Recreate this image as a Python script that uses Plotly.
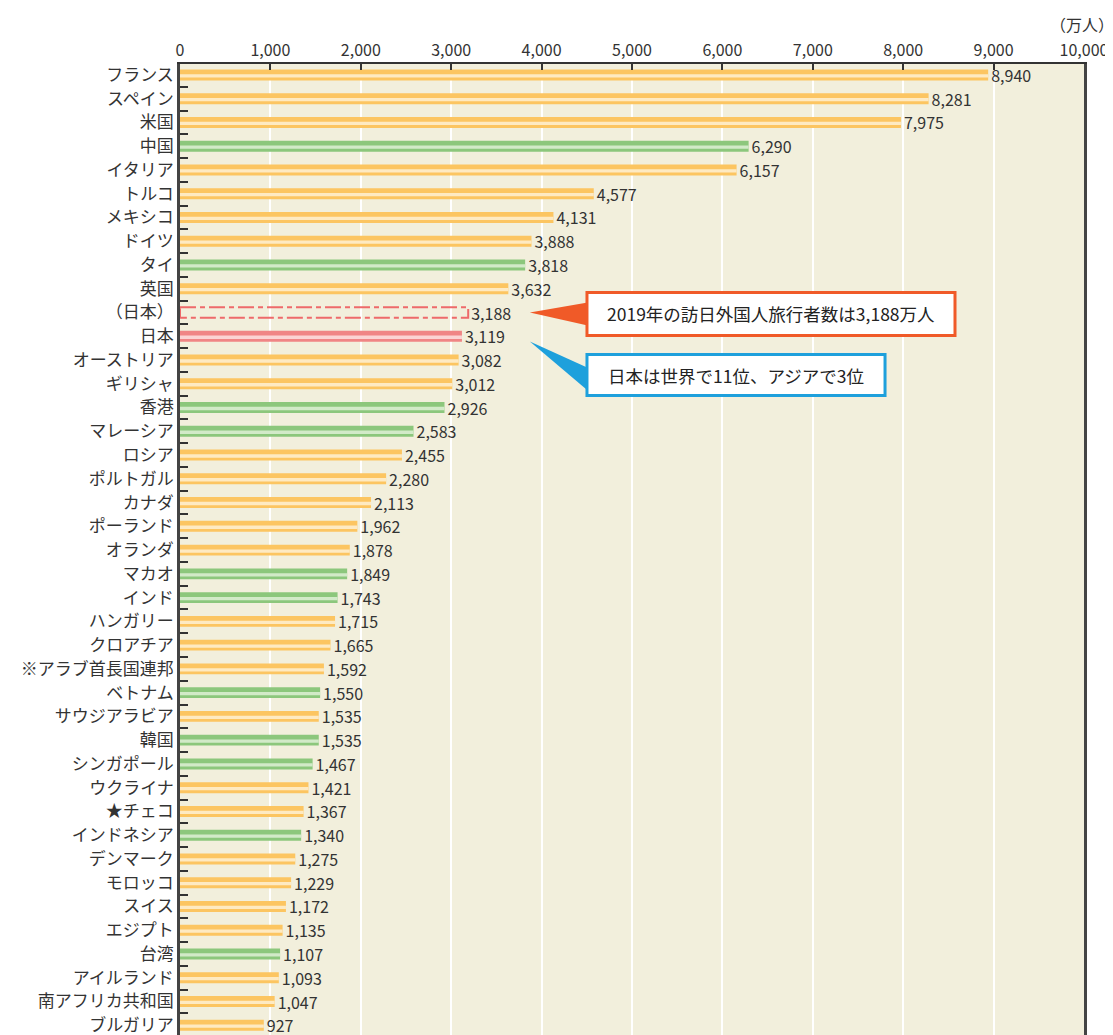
import plotly.graph_objects as go

# 国・地域別 外国人旅行者受入数 (万人)
countries = [
    'フランス', 'スペイン', '米国', '中国', 'イタリア', 'トルコ', 'メキシコ', 'ドイツ',
    'タイ', '英国', '（日本）', '日本', 'オーストリア', 'ギリシャ', '香港', 'マレーシア',
    'ロシア', 'ポルトガル', 'カナダ', 'ポーランド', 'オランダ', 'マカオ', 'インド',
    'ハンガリー', 'クロアチア', '※アラブ首長国連邦', 'ベトナム', 'サウジアラビア', '韓国',
    'シンガポール', 'ウクライナ', '★チェコ', 'インドネシア', 'デンマーク', 'モロッコ',
    'スイス', 'エジプト', '台湾', 'アイルランド', '南アフリカ共和国', 'ブルガリア',
]
visitors = [
    8940, 8281, 7975, 6290, 6157, 4577, 4131, 3888,
    3818, 3632, 3188, 3119, 3082, 3012, 2926, 2583,
    2455, 2280, 2113, 1962, 1878, 1849, 1743,
    1715, 1665, 1592, 1550, 1535, 1535,
    1467, 1421, 1367, 1340, 1275, 1229,
    1172, 1135, 1107, 1093, 1047, 927,
]
# other / asia / japan / japan2019
groups = [
    'other', 'other', 'other', 'asia', 'other', 'other', 'other', 'other',
    'asia', 'other', 'japan2019', 'japan', 'other', 'other', 'asia', 'asia',
    'other', 'other', 'other', 'other', 'other', 'asia', 'asia',
    'other', 'other', 'other', 'asia', 'other', 'asia',
    'asia', 'other', 'other', 'asia', 'other', 'other',
    'other', 'other', 'asia', 'other', 'other', 'other',
]
note_2019 = '2019年の訪日外国人旅行者数は3,188万人'
note_rank = '日本は世界で11位、アジアで3位'
unit = '（万人）'

base_col = {'other': '#fcc561', 'asia': '#8cc77c', 'japan': '#f08585', 'japan2019': 'rgba(0,0,0,0)'}
light_col = {'other': '#feeac2', 'asia': '#d2eac8', 'japan': '#fbd3d3', 'japan2019': 'rgba(0,0,0,0)'}

ypos = list(range(len(countries)))
FONT = 'Noto Sans CJK JP'

fig = go.Figure()
fig.add_trace(go.Bar(
    x=visitors, y=ypos, orientation='h', width=0.46,
    marker=dict(color=[base_col[g] for g in groups], line_width=0),
    text=[f'{v:,}' for v in visitors], textposition='outside',
    constraintext='none', cliponaxis=False,
    textfont=dict(size=16, color='#333333', family=FONT),
    hoverinfo='skip',
))
fig.add_trace(go.Bar(
    x=visitors, y=[p + 0.04 for p in ypos], orientation='h', width=0.14,
    marker=dict(color=[light_col[g] for g in groups], line_width=0),
    hoverinfo='skip',
))

# dashed outline for the 2019 Japan figure
for i, g in enumerate(groups):
    if g == 'japan2019':
        fig.add_shape(type='rect', xref='x', yref='y', x0=0, x1=visitors[i],
                      y0=i - 0.22, y1=i + 0.22, layer='above',
                      line=dict(color='#ee6a6a', width=2, dash='16px,4px,5px,4px'))

# callout boxes
fig.add_shape(type='path', xref='x', yref='y', layer='above',
              path='M 3870,10.0 L 4510,9.58 L 4510,10.55 Z',
              fillcolor='#f05a28', line=dict(width=0))
fig.add_shape(type='rect', xref='x', yref='y', x0=4502, x1=8573, y0=9.16, y1=10.97,
              fillcolor='white', line=dict(color='#f05a28', width=3), layer='above')
fig.add_annotation(x=(4502 + 8573) / 2, y=10.06, xref='x', yref='y',
                   text=note_2019, showarrow=False,
                   font=dict(size=17.5, color='#222222', family=FONT))

fig.add_shape(type='path', xref='x', yref='y', layer='above',
              path='M 3870,11.22 L 4510,12.32 L 4510,13.28 Z',
              fillcolor='#1ea0dc', line=dict(width=0))
fig.add_shape(type='rect', xref='x', yref='y', x0=4502, x1=7799, y0=11.77, y1=13.49,
              fillcolor='white', line=dict(color='#1ea0dc', width=3), layer='above')
fig.add_annotation(x=(4502 + 7799) / 2, y=12.63, xref='x', yref='y',
                   text=note_rank, showarrow=False,
                   font=dict(size=17.5, color='#222222', family=FONT))

fig.add_annotation(x=0.998, y=1.041, xref='paper', yref='paper', text=unit,
                   showarrow=False, xanchor='center', yanchor='middle',
                   font=dict(size=16, color='#333333', family=FONT))

# page body adds an 8px margin, so the figure is a little smaller than the window
fig.update_layout(
    width=1105, height=1027,
    margin=dict(l=172, r=29, t=56, b=0),
    paper_bgcolor='white', plot_bgcolor='#f2efdc',
    barmode='overlay', showlegend=False,
    font=dict(family=FONT, color='#333333'),
)
fig.update_xaxes(
    side='top', range=[0, 10000], tickvals=list(range(0, 10001, 1000)),
    tickformat=',', showgrid=True, gridcolor='white', gridwidth=2, zeroline=False,
    showline=True, linecolor='#333333', linewidth=2,
    ticks='inside', ticklen=6, tickwidth=2, tickcolor='#333333',
    tickfont=dict(size=16, color='#333333', family=FONT),
)
fig.update_yaxes(
    range=[40.41, -0.46], tickvals=ypos, ticktext=countries,
    showgrid=False, zeroline=False, ticklabeloverflow='allow',
    showline=True, linecolor='#444444', linewidth=2.5, mirror=True,
    ticks='', tickfont=dict(size=17, color='#333333', family=FONT),
    minor=dict(tickmode='linear', tick0=0.5, dtick=1, ticks='inside',
               ticklen=8, tickwidth=2, tickcolor='#333333', showgrid=False),
)

fig.write_html('out.html')
